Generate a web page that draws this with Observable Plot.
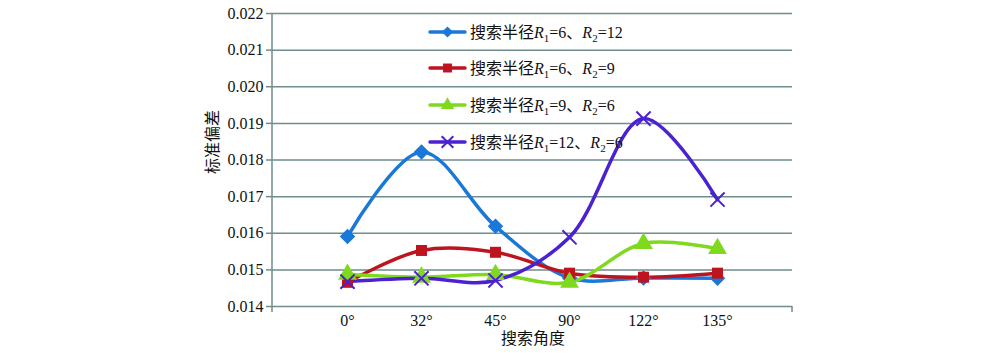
<!DOCTYPE html>
<html>
<head>
<meta charset="utf-8">
<script src="https://cdn.jsdelivr.net/npm/d3@7"></script>
<script src="https://cdn.jsdelivr.net/npm/@observablehq/plot@0.6"></script>
<style>
  html, body { margin: 0; padding: 0; background: #fff; }
  #chart { position: relative; width: 1000px; height: 353px; }
  #chart svg text { font-family: "Liberation Serif", "Times New Roman", serif; }
  #chart svg text.cjk, #chart svg tspan.cjk { font-family: "Noto Sans CJK SC", sans-serif; }
</style>
</head>
<body>
<div id="chart"></div>
<script>
const angles = ["0°", "32°", "45°", "90°", "122°", "135°"];
const yTicks = [0.014, 0.015, 0.016, 0.017, 0.018, 0.019, 0.020, 0.021, 0.022];
const seriesKeys = ["s1", "s2", "s3", "s4"];
const seriesR1 = ["6", "6", "9", "12"];
const seriesR2 = ["12", "9", "6", "6"];
const s1 = [0.01591, 0.01822, 0.01619, 0.01478, 0.01478, 0.01477];
const s2 = [0.01466, 0.01553, 0.01548, 0.01491, 0.01480, 0.01491];
const s3 = [0.01488, 0.01480, 0.01487, 0.01466, 0.01572, 0.01558];
const s4 = [0.01468, 0.01477, 0.01471, 0.01589, 0.01913, 0.01692];
const colors = ["#1a78d8", "#bd1420", "#7fd91f", "#4a22cf"];
const symbols = ["diamond2", "square", "triangle", "times"];

const allValues = [s1, s2, s3, s4];
const data = [];
seriesKeys.forEach((k, i) => {
  angles.forEach((a, j) => data.push({series: k, angle: a, value: allValues[i][j]}));
});

const gridColor = "#6f8d8c";
const serif = "'Liberation Serif', 'Times New Roman', serif";

const marks = [
  Plot.ruleY(yTicks, {stroke: gridColor, strokeWidth: 1.5, strokeOpacity: 1}),
];

seriesKeys.forEach((k, i) => {
  const d = data.filter(r => r.series === k);
  marks.push(Plot.line(d, {x: "angle", y: "value", stroke: colors[i], strokeWidth: 3.5, curve: "catmull-rom"}));
});
seriesKeys.forEach((k, i) => {
  const d = data.filter(r => r.series === k);
  if (symbols[i] === "times") {
    marks.push(Plot.dot(d, {x: "angle", y: "value", symbol: "times", r: 6.5, stroke: colors[i], strokeWidth: 2}));
  } else {
    marks.push(Plot.dot(d, {x: "angle", y: "value", symbol: symbols[i], r: symbols[i] === "square" ? 6.2 : 7, fill: colors[i], stroke: "none"}));
  }
});

const plot = Plot.plot({
  width: 1000,
  height: 353,
  marginLeft: 272,
  marginRight: 208,
  marginTop: 13,
  marginBottom: 47,
  style: {fontFamily: serif, fontSize: "16px", color: "#111", background: "#fff"},
  x: {type: "point", domain: angles, padding: 1, label: null},
  y: {domain: [0.014, 0.022], label: null},
  marks: [
    ...marks,
    Plot.axisY({ticks: yTicks, tickFormat: d3.format(".3f"), tickSize: 6, tickPadding: 3, stroke: gridColor, strokeWidth: 1.5, label: null, fontSize: 16, fontFamily: serif, fill: "#111"}),
    Plot.axisX({tickSize: 0, tickPadding: 8, label: null, fontSize: 16, fontFamily: serif, fill: "#111"})
  ]
});

document.getElementById("chart").appendChild(plot);

const svg = d3.select(plot);
const x0 = 272, x1 = 792, yb = 306, yt = 13;
const g = svg.append("g");
g.append("line").attr("x1", x0).attr("x2", x0).attr("y1", yt).attr("y2", yb + 6).attr("stroke", gridColor).attr("stroke-width", 1.5);
g.append("line").attr("x1", x1).attr("x2", x1).attr("y1", yb).attr("y2", yb + 6).attr("stroke", gridColor).attr("stroke-width", 1.5);

// axis titles
svg.append("text").attr("class", "cjk")
  .attr("transform", "translate(212,142) rotate(-90)")
  .attr("text-anchor", "middle").attr("dy", "0.35em")
  .attr("font-size", 16).attr("fill", "#111")
  .text("标准偏差");
svg.append("text").attr("class", "cjk")
  .attr("x", 533).attr("y", 338)
  .attr("text-anchor", "middle").attr("dy", "0.35em")
  .attr("font-size", 16).attr("fill", "#111")
  .text("搜索角度");

// legend
const legendY = [32, 68, 105, 142];
seriesKeys.forEach((k, i) => {
  const lg = svg.append("g").attr("transform", `translate(0,${legendY[i]})`);
  lg.append("line").attr("x1", 430).attr("x2", 465).attr("y1", 0).attr("y2", 0)
    .attr("stroke", colors[i]).attr("stroke-width", 3.5).attr("stroke-linecap", "round");
  const sx = 447.5;
  if (symbols[i] === "times") {
    lg.append("path").attr("d", d3.symbol(d3.symbolTimes, 90)()).attr("transform", `translate(${sx},0)`)
      .attr("stroke", colors[i]).attr("stroke-width", 2).attr("fill", "none");
  } else {
    const sym = symbols[i] === "diamond2" ? d3.symbolDiamond2 : symbols[i] === "square" ? d3.symbolSquare : d3.symbolTriangle;
    lg.append("path").attr("d", d3.symbol(sym, 80)()).attr("transform", `translate(${sx},0)`).attr("fill", colors[i]);
  }
  const t = lg.append("text").attr("x", 470).attr("y", 0).attr("dy", "0.35em")
    .attr("text-anchor", "start")
    .attr("font-size", 16).attr("fill", "#111");
  t.append("tspan").attr("class", "cjk").text("搜索半径");
  t.append("tspan").attr("font-style", "italic").text("R");
  t.append("tspan").attr("font-size", 11).attr("dy", "4").text("1");
  t.append("tspan").attr("dy", "-4").text("=" + seriesR1[i]);
  t.append("tspan").attr("class", "cjk").text("、");
  t.append("tspan").attr("font-style", "italic").text("R");
  t.append("tspan").attr("font-size", 11).attr("dy", "4").text("2");
  t.append("tspan").attr("dy", "-4").text("=" + seriesR2[i]);
});
</script>
</body>
</html>
